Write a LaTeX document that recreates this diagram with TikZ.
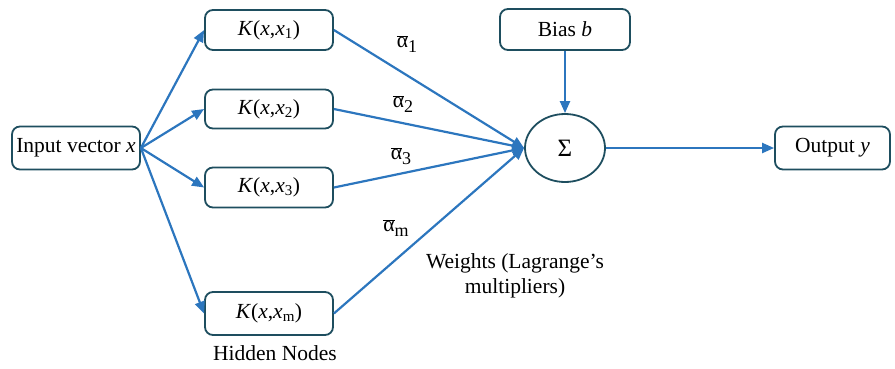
\documentclass[tikz,border=0pt]{standalone}
\usepackage{fontspec}
\setmainfont{Liberation Serif}
\usetikzlibrary{arrows.meta,shapes.geometric}
\definecolor{boxc}{RGB}{30,78,95}
\definecolor{arrc}{RGB}{44,118,190}
\newcommand{\abar}[1]{$\overline{\mbox{α}}$\raisebox{-0.45ex}{\fontsize{18}{18}\selectfont #1}}
\begin{document}
\begin{tikzpicture}[x=1pt,y=-1pt,
  every node/.style={font=\fontsize{21.5}{25}\selectfont},
  rbox/.style={draw=boxc,line width=1.8pt,rounded corners=8pt,inner sep=0pt,fill=white},
  conn/.style={draw=arrc,line width=2.2pt,-{Triangle[length=12pt,width=10pt]}}]
\useasboundingbox (0,0) rectangle (895,368);
\node[rbox,minimum width=128pt,minimum height=43pt] (in) at (76,148) {Input vector \textit{x}};
\node[rbox,minimum width=128pt,minimum height=40pt] (k1) at (269,30) {\textit{K}(\textit{x},\textit{x}\textsubscript{1})};
\node[rbox,minimum width=128pt,minimum height=39pt] (k2) at (269,109) {\textit{K}(\textit{x},\textit{x}\textsubscript{2})};
\node[rbox,minimum width=128pt,minimum height=40pt] (k3) at (269,187.5) {\textit{K}(\textit{x},\textit{x}\textsubscript{3})};
\node[rbox,minimum width=128pt,minimum height=43pt] (km) at (269,313.5) {\textit{K}(\textit{x},\textit{x}\textsubscript{m})};
\node[rbox,minimum width=130pt,minimum height=41pt] (bias) at (565,29.5) {Bias \textit{b}};
\node[draw=boxc,line width=1.8pt,ellipse,minimum width=80pt,minimum height=68pt,inner sep=0pt,font=\fontsize{25}{28}\selectfont] (sum) at (565,148) {Σ};
\node[rbox,minimum width=115pt,minimum height=43pt] (out) at (832.5,148) {Output \textit{y}};
\draw[conn] (in.east) -- (k1.west);
\draw[conn] (in.east) -- (k2.west);
\draw[conn] (in.east) -- (k3.west);
\draw[conn] (in.east) -- (km.west);
\draw[conn] (k1.east) -- (sum.west);
\draw[conn] (k2.east) -- (sum.west);
\draw[conn] (k3.east) -- (sum.west);
\draw[conn] (km.east) -- (sum.west);
\draw[conn] (bias.south) -- (sum.north);
\draw[conn] (sum.east) -- (out.west);
\node (a1) at (407,44) {\abar{1}};
\node (a2) at (403,104) {\abar{2}};
\node (a3) at (401,156) {\abar{3}};
\node (am) at (396,228) {\abar{m}};
\node[align=center] (w) at (515,276) {Weights (Lagrange’s\\multipliers)};
\node (hn) at (275,353) {Hidden Nodes};
\end{tikzpicture}
\end{document}
